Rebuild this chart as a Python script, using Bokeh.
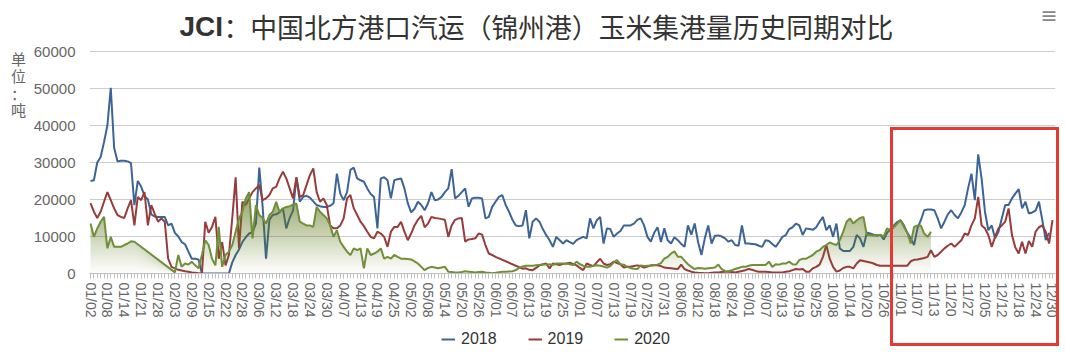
import math
from bokeh.plotting import figure
from bokeh.layouts import row, column
from bokeh.models import (Range1d, FixedTicker, NumeralTickFormatter, Label,
                          Legend, LegendItem, InlineStyleSheet)
from bokeh.embed import file_html
from bokeh.resources import INLINE

# ---------------- data ----------------
tick_labels = ["01/02", "01/08", "01/14", "01/21", "01/28", "02/03", "02/09", "02/15", "02/22", "02/28",
               "03/06", "03/12", "03/18", "03/24", "03/30", "04/07", "04/13", "04/19", "04/25", "05/02",
               "05/08", "05/14", "05/20", "05/26", "06/01", "06/07", "06/13", "06/19", "06/25", "07/01",
               "07/07", "07/13", "07/19", "07/25", "07/31", "08/06", "08/12", "08/18", "08/24", "09/01",
               "09/07", "09/13", "09/19", "09/25", "10/08", "10/14", "10/20", "10/26", "11/01", "11/07",
               "11/13", "11/20", "11/27", "12/05", "12/12", "12/18", "12/24", "12/30"]
label_step = 5
n_points = 286
series_names = ["2018", "2019", "2020"]
y_ticks = [0, 10000, 20000, 30000, 40000, 50000, 60000]
title_bold = "JCI"
title_rest = "：中国北方港口汽运（锦州港）玉米集港量历史同期对比"
unit_chars = "单位：吨"

val_2018 = [
    25000, 25200, 30000, 31500, 35500, 40000, 50200, 34000, 30300, 30500,
    30500, 30300, 29800, 18500, 25000, 23500, 21000, 20000, 16000, 15400,
    15300, 15300, 15300, 13000, 13500, 11000, 10000, 8500, 7900, 5900,
    4000, 4000, 3800, 0, 0, 0, 0, 0, 0, 0,
    0, 0, 3000, 5000, 6500, 8500, 9800, 10800, 11200, 13500,
    28600, 18000, 4000, 14500, 15800, 16000, 16500, 17600, 12200, 15000,
    17000, 26000, 19400, 20700, 21000, 20500, 19500, 18500, 18200, 18000,
    18000, 18300, 19000, 27000, 21600, 19800, 22000, 28000, 28600, 25700,
    25200, 24800, 23000, 21500, 20700, 12200, 25700, 26000, 25200, 20300,
    25200, 25500, 25700, 23000, 19000, 16500, 17500, 19400, 18500, 17100,
    19000, 22000, 19800, 20000, 20700, 22000, 23000, 28200, 20300, 21000,
    22000, 23000, 18000, 20300, 20500, 20500, 20300, 14900, 15300, 18000,
    19400, 20700, 21200, 18500, 16700, 14500, 13000, 12800, 13000, 17100,
    9500, 14000, 14900, 14000, 12000, 10400, 9000, 7200, 9900, 9000,
    8100, 9000, 8500, 8000, 9000, 9500, 9900, 9500, 14900, 12200,
    14400, 15300, 8100, 12200, 12000, 9900, 10800, 11500, 13000, 13000,
    13000, 13500, 14500, 14900, 13000, 9900, 8600, 11000, 12500, 8500,
    12200, 9000, 8100, 9800, 9000, 8000, 7200, 13000, 10500, 13500,
    8500, 5000, 9500, 13000, 8100, 10200, 10300, 10000, 9500, 8600,
    9000, 7700, 7500, 13000, 8100, 8100, 8000, 7900, 7500, 7200,
    9000, 8800, 8000, 7200, 8500, 9900, 10400, 12000, 12500, 13500,
    13000, 10400, 12200, 12000, 11800, 12500, 14000, 15300, 11700, 13000,
    9900, 13500, 6800, 6100, 6100, 6100, 7200, 10400, 9500, 7200,
    11000, 10800, 10500, 10200, 10500, 9200, 11000, 12000, 13000, 13900,
    14400, 13000, 11000, 9500, 7700, 12200, 14400, 17100, 17300, 17300,
    17100, 14900, 12200, 14000, 16000, 17100, 15800, 14900, 16500, 18500,
    23000, 27000, 19800, 32200, 25700, 16700, 11700, 13000, 9500, 11300,
    14900, 18500, 18500, 20300, 21600, 22800, 17600, 19400, 16200, 16500,
    17000, 19400, 14400, 9000, 11000, None]

val_2019 = [
    19000, 16700, 15000, 16700, 19400, 22000, 19800, 17600, 15800, 15300,
    15000, 17600, 19800, 13000, 20700, 19800, 22000, 13000, 18500, 16200,
    14000, 14900, 14000, 4000, 1800, 1400, 1000, 800, 600, 500,
    300, 200, 100, 0, 14000, 11000, 12600, 15300, 4000, 8500,
    2200, 5000, 15000, 26000, 6800, 19400, 18500, 20300, 22000, 23000,
    23900, 19800, 20300, 21200, 23000, 23400, 25700, 27500, 25700, 23000,
    20300, 26000, 20700, 21200, 23900, 26600, 28400, 22000, 19400, 20300,
    18500, 13000, 12200, 12200, 13000, 14900, 20300, 21200, 17600, 15800,
    14000, 12800, 11300, 9900, 9500, 11300, 10800, 9900, 7200, 11300,
    12600, 12600, 14000, 11300, 9000, 10800, 13000, 14500, 15600, 12500,
    13500, 15300, 15000, 14900, 14700, 14500, 9900, 13000, 14500, 14900,
    15000, 8600, 9200, 9300, 9500, 10800, 10500, 7700, 5400, 5000,
    4500, None, None, None, None, None, None, None, 1300, 1400,
    1000, 900, 1500, 2200, 2500, 2700, 1400, 2700, 2500, 2300,
    2600, 2700, 2900, 2600, 2200, 1500, 900, 2700, 2300, 2000,
    3000, 4000, 2700, 2300, 2500, 3200, 2800, 2500, 1600, 1800,
    1800, 2000, 2200, 2000, 1600, 1900, 2200, 2300, 2200, 2000,
    1600, 1500, 1400, 1300, 1200, 2400, 1200, 800, 500, 300,
    200, 150, 100, 100, 200, 250, 300, 400, 450, 500,
    400, 300, 500, 700, 900, 1200, 1000, 700, 500, 450,
    450, 400, 300, 300, 300, 300, 500, 600, 900, 1200,
    1100, 1200, 500, 500, 1400, 1800, 2400, 4500, 7700, 4000,
    1800, 500, 800, 1500, 1800, 1800, 1400, 2700, 3600, 3400,
    3200, 3000, 2700, 2300, 2100, 2100, 2100, 2100, 2100, 2100,
    2100, 2100, 2100, 3300, 3700, 3800, 4000, 4200, 4500, 6300,
    4500, 5000, 5900, 6800, 7500, 8100, 7200, 8100, 9000, 10800,
    10400, 13000, 14900, 20700, 13000, 12200, 10400, 7200, 9900, 12200,
    13000, 14000, 17600, 10400, 7000, 5400, 8600, 5400, 8800, 7200,
    11300, 12500, 13000, 11300, 8100, 14400]

val_2020 = [
    13500, 9900, 12200, 14000, 15300, 6800, 9900, 7200, 7200, 7200,
    7700, 8100, 8700, 8600, None, None, None, None, None, None,
    None, None, None, None, None, 300, 5000, 1800, 2700, 2400,
    3200, 2200, 1400, 5000, 9000, 7700, 4000, 2200, 12600, 1800,
    5000, 5900, 7700, 11300, 14900, 16700, 20300, 22000, 9500, 18500,
    15800, 15000, 13500, 15800, 16700, 19400, 16700, 17600, 18000, 18200,
    18600, 18900, 14000, 13500, 13000, 13000, 12600, 18000, 16700, 15800,
    14900, 13000, 9900, 11700, 8600, 7200, 5900, 5000, 6800, 6300,
    6800, 1400, 6800, 5000, 5400, 5900, 6800, 4000, 4500, 4000,
    5000, 4500, 4000, 4000, 3900, 3800, 3300, 2700, 1800, 900,
    1500, 1800, 1600, 1400, 1600, 1800, 500, 400, 300, 300,
    400, 600, 500, 400, 300, 400, 450, 300, 200, 100,
    200, 350, 450, 500, 550, 600, 900, 1500, 1900, 2100,
    2100, 2100, 2200, 2300, 2400, 2400, 2500, 2300, 2700, 2700,
    2700, 2700, 2500, 2300, 3200, 2500, 2100, 1800, 1800, 2100,
    2200, 2100, 1900, 1600, 2000, 3000, 3600, 2500, 2400, 1800,
    1500, 1300, 1200, 2200, 2000, 2100, 2100, 2300, 2400, 2800,
    4000, 4500, 5400, 6000, 4500, 4500, 3500, 2500, 1800, 1200,
    1500, 1400, 1300, 1400, 1500, 1600, 2400, 1200, 700, 600,
    900, 1200, 1500, 1800, 1800, 2100, 2300, 2300, 2300, 2300,
    2300, 3200, 1800, 2500, 2400, 2700, 2700, 3200, 2500, 2400,
    3600, 4000, 4000, 4500, 5000, 5900, 6300, 7200, 7700, 8400,
    8000, 7700, 9000, 11300, 14000, 14900, 13500, 14400, 15000, 15300,
    10400, 10400, 10300, 10400, 10400, 10000, 12200, 11700, 12500, 13500,
    14400, 12600, 11000, 8100, 12600, 13000, 13000, 10800, 9900, 11300]

colors = ["#3c6497", "#983b3b", "#718f3a"]


def present(vals):
    xs = [i for i, v in enumerate(vals) if v is not None]
    ys = [v for v in vals if v is not None]
    return xs, ys


# ---------------- geometry (page pixels) ----------------
W, H = 1065, 352
UNIT_W = 30          # narrow strip holding the stacked unit label
MAIN_H = 330         # main chart height; legend strip below
FL, FB, GRID_TOP = 88, 273, 51
y_top = y_ticks[-1] * FB / (FB - GRID_TOP)   # frame reaches top so the title sits inside it


def bare_figure(width, height, bottom_border=0):
    f = figure(width=width, height=height, output_backend="svg", toolbar_location=None,
               x_axis_type=None, y_axis_type=None, min_border=0,
               min_border_bottom=bottom_border,
               x_range=Range1d(0, width), y_range=Range1d(0, height - bottom_border))
    f.outline_line_color = None
    return f


# ---- unit label strip (frame aligned with the main chart frame: rows 0..273) ----
unit_fig = bare_figure(UNIT_W, MAIN_H, bottom_border=MAIN_H - FB)
for ch, cy in zip(unit_chars, [58, 75, 93, 109]):
    unit_fig.add_layout(Label(x=18, y=FB - cy, text=ch, text_font="Noto Sans CJK SC",
                              text_font_size="15px", text_color="#666666",
                              text_align="center", text_baseline="middle"))

# ---- main chart ----
p = figure(width=W - UNIT_W, height=MAIN_H, output_backend="svg", toolbar_location=None,
           x_range=Range1d(-0.3, n_points - 0.1), y_range=Range1d(0, y_top),
           min_border_left=FL - UNIT_W, min_border_right=10, min_border_top=0,
           min_border_bottom=MAIN_H - FB)
p.outline_line_color = None
p.title.visible = False
p.xgrid.visible = False
p.ygrid.grid_line_color = "#cccccc"

xa = p.xaxis[0]
xa.ticker = FixedTicker(ticks=[label_step * k for k in range(len(tick_labels))],
                        minor_ticks=list(range(n_points)))
xa.major_label_overrides = {label_step * k: t for k, t in enumerate(tick_labels)}
xa.major_label_orientation = -math.pi / 2
xa.major_label_text_font = "Liberation Sans"
xa.major_label_text_font_size = "14px"
xa.major_label_text_color = "#666666"
xa.major_label_standoff = 4
xa.axis_line_color = "#c0c0c0"
xa.major_tick_line_color = "#c0c0c0"
xa.major_tick_out = 5
xa.major_tick_in = 0
xa.minor_tick_line_color = "#c0c0c0"
xa.minor_tick_out = 5
xa.minor_tick_in = 0

ya = p.yaxis[0]
ya.ticker = FixedTicker(ticks=y_ticks)
ya.formatter = NumeralTickFormatter(format="0")
ya.axis_line_color = None
ya.major_tick_line_color = None
ya.minor_tick_line_color = None
ya.major_label_text_font = "Liberation Sans"
ya.major_label_text_font_size = "15px"
ya.major_label_text_color = "#666666"
ya.major_label_standoff = 8

x18, y18 = present(val_2018)
x19, y19 = present(val_2019)
x20, y20 = present(val_2020)
p.line(x18, y18, line_color=colors[0], line_width=2)
p.line(x19, y19, line_color=colors[1], line_width=2)

# gradient area for 2020 (stacked translucent layers)
top = max(y20)
n_layers = 44
max_alpha = 0.7
prev = 0.0
for k in range(n_layers):
    lo = top * k / n_layers
    target = max_alpha * (k + 1) / n_layers
    a = 1 - (1 - target) / (1 - prev)
    prev = target
    p.varea(x=x20, y1=[min(v, lo) for v in y20], y2=y20,
            fill_color=colors[2], fill_alpha=a)
p.line(x20, y20, line_color=colors[2], line_width=2)


def frame_label(text, cx, cy, size, color, font, style="normal", align="left"):
    return Label(x=cx - FL, y=FB - cy, x_units="screen", y_units="screen", text=text,
                 text_font_size=size, text_color=color, text_font=font,
                 text_font_style=style, text_align=align, text_baseline="middle")


p.add_layout(frame_label(title_bold, 178, 26, "28px", "#333333", "Liberation Sans", "bold"))
p.add_layout(frame_label(title_rest, 222, 26, "26.8px", "#333333", "Noto Sans CJK SC"))
p.add_layout(frame_label("≡", 1048, 15, "22px", "#888888", "DejaVu Sans", align="center"))

# ---- legend strip ----
LEG_H = H - MAIN_H
leg_fig = bare_figure(W, LEG_H)
# legend keys only: one off-canvas segment each so the key line is drawn
leg_renderers = [leg_fig.line([-20, -10], [-20, -20], line_color=c, line_width=2) for c in colors]
legend = Legend(items=[LegendItem(label=n, renderers=[r]) for n, r in zip(series_names, leg_renderers)],
                orientation="horizontal", location=(441, LEG_H - 16 - 2),
                glyph_width=14, glyph_height=16, label_height=16, label_standoff=6, spacing=31,
                padding=0, margin=0, border_line_color=None, background_fill_alpha=0,
                label_text_font="Liberation Sans", label_text_font_size="16px",
                label_text_color="#333333")
leg_fig.add_layout(legend)

css = """
:host::after {
  content: "";
  position: absolute;
  left: 890px; top: 127px; width: 169px; height: 219px;
  border: 3px solid #e53935;
  box-sizing: border-box;
  pointer-events: none;
}
"""
layout = column(row(unit_fig, p, spacing=0), leg_fig, spacing=0,
                stylesheets=[InlineStyleSheet(css=css)])

open("out.html", "w").write(file_html(layout, INLINE))
